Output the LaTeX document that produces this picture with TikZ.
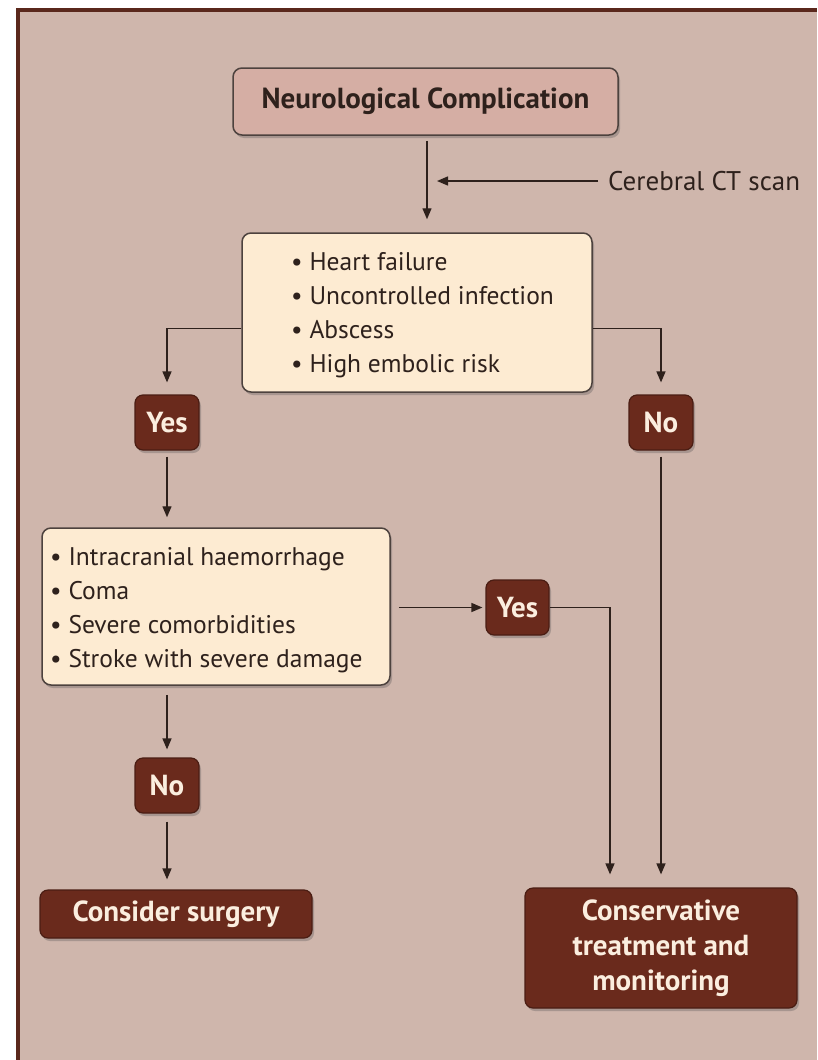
\documentclass[tikz,border=0pt]{standalone}
\usepackage{fontspec}
\setmainfont{PT Sans}
\usetikzlibrary{arrows.meta,shadows,calc}
\definecolor{bg}{HTML}{CFB6AC}
\definecolor{framec}{HTML}{5A281C}
\definecolor{dark}{HTML}{6A2A1C}
\definecolor{darkline}{HTML}{4A1D13}
\definecolor{cream}{HTML}{FDEBD2}
\definecolor{pinkbox}{HTML}{D5AEA4}
\definecolor{ink}{HTML}{2E211C}
\definecolor{lighttxt}{HTML}{FBEEDF}
\tikzset{
  shade box/.style={drop shadow={shadow xshift=2pt, shadow yshift=-3pt, opacity=0.3, fill=black!70}},
  topbox/.style={shade box, rounded corners=9, draw=ink!85, line width=1.5, fill=pinkbox, text=ink,
    font=\bfseries\fontsize{29}{34}\selectfont},
  listbox/.style={shade box, rounded corners=9, draw=ink!85, line width=1.5, fill=cream, inner sep=0},
  item/.style={text=ink, font=\fontsize{25.5}{34}\selectfont, inner sep=0, anchor=base west},
  darkbox/.style={shade box, rounded corners=8, draw=darkline, line width=1.2, fill=dark, text=lighttxt,
    font=\bfseries\fontsize{29}{35}\selectfont, align=center, inner sep=0},
  arr/.style={draw=ink, line width=1.4, -{Triangle[length=11pt,width=9pt]}},
  lab/.style={text=ink, font=\fontsize{27}{32}\selectfont, inner sep=0, anchor=base west}
}
\begin{document}
\begin{tikzpicture}[x=1pt,y=-1pt]
\useasboundingbox (0,0) rectangle (817,1060);
\fill[white] (0,0) rectangle (817,1060);
\fill[bg] (18,10) rectangle (817,1060);
\draw[framec, line width=4] (18,1060) -- (18,10) -- (817,10);

% boxes
\node[topbox, minimum width=385, minimum height=67] (nc) at (425.5,101.5) {Neurological Complication};
\node[listbox, minimum width=350, minimum height=159] (b2) at (417,312.5) {};
\node[item] (b2a) at (291,270) {\textbullet\ Heart failure};
\node[item] (b2b) at (291,304) {\textbullet\ Uncontrolled infection};
\node[item] (b2c) at (291,338) {\textbullet\ Abscess};
\node[item] (b2d) at (291,372) {\textbullet\ High embolic risk};

\node[darkbox, minimum width=64, minimum height=55] (yes1) at (167,422.5) {Yes};
\node[darkbox, minimum width=64, minimum height=55] (no1) at (661,422.5) {No};

\node[listbox, minimum width=348, minimum height=157] (b3) at (216,606.5) {};
\node[item] (b3a) at (50,565) {\textbullet\ Intracranial haemorrhage};
\node[item] (b3b) at (50,599) {\textbullet\ Coma};
\node[item] (b3c) at (50,633) {\textbullet\ Severe comorbidities};
\node[item] (b3d) at (50,667) {\textbullet\ Stroke with severe damage};

\node[darkbox, minimum width=63, minimum height=55] (yes2) at (517.5,607.5) {Yes};
\node[darkbox, minimum width=64, minimum height=55] (no2) at (167,785.5) {No};
\node[darkbox, minimum width=272, minimum height=48] (cs) at (176,914) {Consider surgery};
\node[darkbox, minimum width=272, minimum height=120] (cons) at (661,948) {Conservative\\treatment and\\monitoring};
\node[lab] (ct) at (608,190) {Cerebral CT scan};

\coordinate (ax) at (427,0);
\coordinate (ctend) at (437,181);
\coordinate (c1) at ($(cons.north)+(-51,0)$);

% connectors
\draw[arr, shorten <=5, shorten >=13] (nc.south -| ax) -- (b2.north -| ax);
\draw[arr, shorten <=10] (ct.west |- ctend) -- (ctend);
\draw[arr, shorten >=12] ($(b2.west)+(0,16)$) -| (yes1.north);
\draw[arr, shorten >=12] ($(b2.east)+(0,16)$) -| (no1.north);
\draw[arr, shorten <=6, shorten >=10] (yes1.south) -- (yes1.south |- b3.north);
\draw[arr, shorten <=8, shorten >=3] (b3.east |- yes2.west) -- (yes2.west);
\draw[arr, shorten >=13] (yes2.east) -| (c1);
\draw[arr, shorten <=6, shorten >=13] (no1.south) -- (no1.south |- cons.north);
\draw[arr, shorten <=9, shorten >=8] (b3.south -| no2) -- (no2.north);
\draw[arr, shorten <=8, shorten >=10] (no2.south) -- (no2.south |- cs.north);
\end{tikzpicture}
\end{document}
